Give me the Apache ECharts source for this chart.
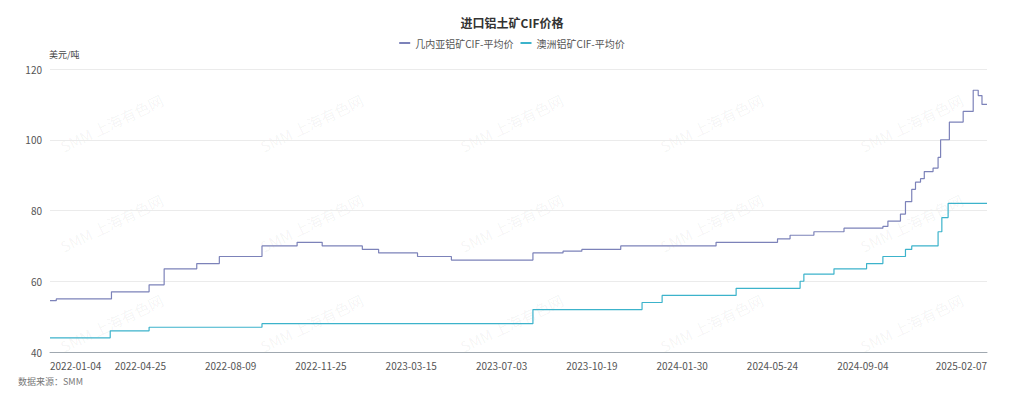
<!DOCTYPE html>
<html>
<head>
<meta charset="utf-8">
<title>进口铝土矿CIF价格</title>
<script src="https://cdn.jsdelivr.net/npm/echarts@6/dist/echarts.min.js"></script>
<style>
	html, body { margin: 0; padding: 0; background: #fff; }
	#chart { width: 1024px; height: 399px; }
</style>
</head>
<body>
<div id="chart"></div>
<script>
// 横轴: 交易日序号 (0 = 2022-01-04, 747 = 2025-02-07)
var lastDay = 747;
var tickStep = 72;
var tickDays = [0, 72, 144, 216, 288, 360, 432, 504, 576, 648, 747];
var tickLabels = ['2022-01-04', '2022-04-25', '2022-08-09', '2022-11-25', '2023-03-15',
	'2023-07-03', '2023-10-19', '2024-01-30', '2024-05-24', '2024-09-04', '2025-02-07'];

// 几内亚铝矿CIF-平均价: 调价日序号 / 价格 (美元/吨)
var guineaDays = [0, 5, 49, 79, 91, 117, 135, 169, 197, 217, 249, 262, 293, 320, 385, 409, 424, 455,
	531, 580, 590, 609, 633, 664, 668, 678, 682, 687, 690, 694, 697, 704, 708, 710, 717, 728, 736, 740, 743, 747];
var guineaPrices = [54.5, 55, 57, 59, 63.5, 65, 67, 70, 71, 70, 69, 68, 67, 66, 68, 68.5, 69, 70,
	71, 72, 73, 74, 75, 75.5, 77, 79, 82.5, 86, 88, 89, 91, 92, 95, 100, 105, 108, 114, 112.5, 110, 110];

// 澳洲铝矿CIF-平均价
var ausDays = [0, 48, 79, 169, 385, 472, 488, 547, 598, 601, 625, 651, 664, 682, 687, 708, 711, 716, 747];
var ausPrices = [44, 46, 47, 48, 52, 54, 56, 58, 60, 62, 63.5, 65, 67, 69, 70, 74, 78, 82, 82];

var yMin = 40, yMax = 120, yStep = 20;

function pairs(days, prices) {
	var out = [];
	for (var i = 0; i < days.length; i++) {
		out.push([days[i], prices[i]]);
	}
	return out;
}

// 水印
function watermarks() {
	var list = [];
	var xs = [58, 258, 458, 658, 858];
	var ys = [92, 192, 292];
	for (var r = 0; r < ys.length; r++) {
		for (var c = 0; c < xs.length; c++) {
			list.push({
				type: 'text',
				left: xs[c],
				top: ys[r],
				rotation: Math.PI / 7,
				z: 0,
				style: { text: 'SMM 上海有色网', fill: 'rgba(0,0,0,0.05)', font: '15px "Noto Sans CJK SC"' }
			});
		}
	}
	return list;
}

// svg 渲染, 0.5 的小台阶不会被合并掉
var chart = echarts.init(document.getElementById('chart'), null, { renderer: 'svg' });
var option = {
	animation: false,
	textStyle: { fontFamily: '"Noto Sans CJK SC", "Noto Sans", sans-serif' },
	title: {
		text: '进口铝土矿CIF价格',
		left: 'center',
		top: 11,
		textStyle: { fontSize: 12, fontWeight: 'bold', color: '#333' }
	},
	legend: {
		top: 33,
		left: 'center',
		itemWidth: 11,
		itemHeight: 2,
		itemGap: 7,
		icon: 'rect',
		textStyle: { fontSize: 10, color: '#555' },
		data: ['几内亚铝矿CIF-平均价', '澳洲铝矿CIF-平均价']
	},
	graphic: watermarks().concat([{
		type: 'text',
		left: 18,
		top: 377,
		style: { text: '数据来源：SMM', fill: '#777', font: '9px "Noto Sans CJK SC"' }
	}]),
	grid: { left: 50, right: 37, top: 69, bottom: 47 },
	xAxis: {
		type: 'value',
		min: 0,
		max: lastDay,
		interval: tickStep,
		splitLine: { show: false },
		axisTick: { show: false },
		axisLine: { show: true, lineStyle: { color: '#a0a8b0' } },
		axisLabel: {
			color: '#555',
			fontSize: 10,
			alignMinLabel: 'left',
			alignMaxLabel: 'right',
			formatter: function (v) {
				var i = tickDays.indexOf(Math.round(v));
				return i >= 0 ? tickLabels[i] : '';
			}
		}
	},
	yAxis: {
		type: 'value',
		name: '美元/吨',
		nameGap: 10,
		nameTextStyle: { color: '#444', fontSize: 9, align: 'left', padding: [0, 0, 0, -1] },
		min: yMin,
		max: yMax,
		interval: yStep,
		axisLine: { show: false },
		axisTick: { show: false },
		axisLabel: { color: '#555', fontSize: 10, margin: 8 },
		splitLine: { lineStyle: { color: '#ebebeb' } }
	},
	series: [
		{
			name: '几内亚铝矿CIF-平均价',
			type: 'line',
			step: 'end',
			symbol: 'none',
			color: '#7c82b9',
			lineStyle: { width: 1.2 },
			data: pairs(guineaDays, guineaPrices)
		},
		{
			name: '澳洲铝矿CIF-平均价',
			type: 'line',
			step: 'end',
			symbol: 'none',
			color: '#3cb3cb',
			lineStyle: { width: 1.2 },
			data: pairs(ausDays, ausPrices)
		}
	]
};
chart.setOption(option);
</script>
</body>
</html>
